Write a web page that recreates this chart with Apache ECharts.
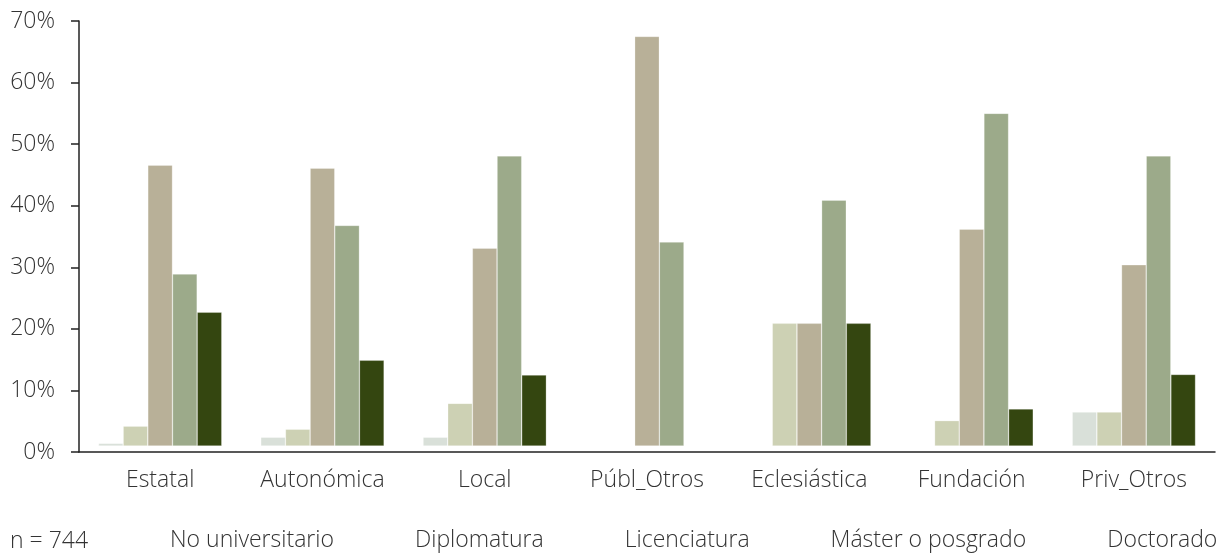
<!DOCTYPE html>
<html>
<head>
<meta charset="utf-8">
<script src="https://cdn.jsdelivr.net/npm/echarts@6/dist/echarts.min.js"></script>
<style>
  html, body { margin: 0; padding: 0; background: #fff; }
  #chart { width: 1230px; height: 555px; }
</style>
</head>
<body>
<div id="chart"></div>
<script>
// categorías (titularidad)
const categories = ['Estatal', 'Autonómica', 'Local', 'Públ_Otros', 'Eclesiástica', 'Fundación', 'Priv_Otros'];
const seriesNames = ['No universitario', 'Diplomatura', 'Licenciatura', 'Máster o posgrado', 'Doctorado'];

// porcentajes
const noUniversitario = [1.4, 2.4, 2.4, 0, 0, 0, 6.5];
const diplomatura     = [4.2, 3.7, 7.9, 0, 20.9, 5.1, 6.5];
const licenciatura    = [46.6, 46.1, 33.1, 67.5, 20.9, 36.2, 30.4];
const master          = [28.9, 36.8, 48.1, 34.1, 40.9, 55.0, 48.1];
const doctorado       = [22.7, 14.9, 12.5, 0, 20.9, 7.0, 12.6];

const yTicks = [0, 10, 20, 30, 40, 50, 60, 70];
const sampleNote = 'n = 744';

const colors = ['#d9e0d9', '#cdd1b4', '#b8b098', '#9caa8a', '#344610'];
const allValues = [noUniversitario, diplomatura, licenciatura, master, doctorado];

// las barras del original "flotan" un poco sobre el eje
const FLOAT = 0.97;
const FONT = 'Open Sans';
const TXT = '#333';
const FS = 23;

const series = [];
allValues.forEach(function (vals, i) {
  series.push({
    type: 'bar',
    stack: 's' + i,
    silent: true,
    itemStyle: { color: 'transparent' },
    data: vals.map(v => v > 0 ? FLOAT : '-'),
    barGap: '0%',
    barCategoryGap: '24%'
  });
  series.push({
    name: seriesNames[i],
    type: 'bar',
    stack: 's' + i,
    itemStyle: { color: colors[i], borderColor: 'rgba(255,255,255,0.45)', borderWidth: 0.6 },
    data: vals.map(v => v > 0 ? Math.max(v - FLOAT, 0) : '-'),
    barGap: '0%',
    barCategoryGap: '24%'
  });
});

const chart = echarts.init(document.getElementById('chart'), null, { renderer: 'canvas' });
chart.setOption({
  animation: false,
  grid: { left: 79, right: 15, top: 21, bottom: 103 },
  legend: {
    data: seriesNames,
    icon: 'none',
    itemWidth: 0,
    itemGap: 76,
    padding: 0,
    left: 165,
    top: 529,
    width: 1060,
    selectedMode: false,
    textStyle: { fontFamily: FONT, fontWeight: 300, fontSize: FS, color: TXT }
  },
  graphic: [{
    type: 'text',
    left: 10,
    top: 530,
    style: { text: sampleNote, fontFamily: FONT, fontWeight: 300, fontSize: FS, fill: TXT }
  }],
  xAxis: {
    type: 'category',
    data: categories,
    axisLine: { lineStyle: { color: '#222', width: 1.5 } },
    axisTick: { length: 8, lineStyle: { color: '#222', width: 1.5 } },
    axisLabel: { fontFamily: FONT, fontWeight: 300, fontSize: FS, color: TXT, margin: 17 }
  },
  yAxis: {
    type: 'value',
    min: yTicks[0],
    max: yTicks[yTicks.length - 1],
    interval: 10,
    splitLine: { show: false },
    axisLine: { show: true, lineStyle: { color: '#222', width: 1.5 } },
    axisTick: { show: true, length: 8, lineStyle: { color: '#222', width: 1.5 } },
    axisLabel: { fontFamily: FONT, fontWeight: 300, fontSize: FS, color: TXT, margin: 24, formatter: '{value}%' }
  },
  series: series
});
</script>
</body>
</html>
